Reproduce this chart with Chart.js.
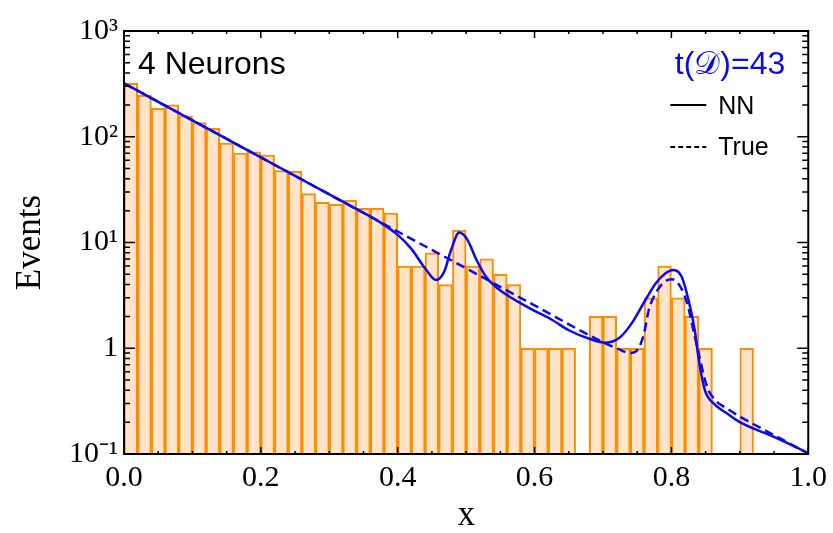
<!DOCTYPE html>
<html lang="en">
<head>
<meta charset="UTF-8">
<title>4 Neurons - Events vs x</title>
<script src="https://cdn.jsdelivr.net/npm/chart.js"></script>
<style>
  html, body { margin: 0; padding: 0; background: #fff; }
</style>
</head>
<body>
<canvas id="histo" width="833" height="533"></canvas>
<script>
// histogram: bin centres (width 0.02) and counts
const binCenters = [
  0.01, 0.03, 0.05, 0.07, 0.09, 0.11, 0.13, 0.15, 0.17, 0.19,
  0.21, 0.23, 0.25, 0.27, 0.29, 0.31, 0.33, 0.35, 0.37, 0.39,
  0.41, 0.43, 0.45, 0.47, 0.49, 0.51, 0.53, 0.55, 0.57, 0.59,
  0.61, 0.63, 0.65, 0.67, 0.69, 0.71, 0.73, 0.75, 0.77, 0.79,
  0.81, 0.83, 0.85, 0.87, 0.89, 0.91, 0.93, 0.95, 0.97, 0.99
];
const counts = [
  320, 246, 186, 200, 158, 136, 120, 87, 70, 72,
  67, 48, 47, 29, 24, 23, 25, 21, 21, 19,
  6, 6, 8, 4, 13, 6, 7, 5, 4, 1,
  1, 1, 1, 0, 2, 2, 1, 1, 3, 6,
  3, 2, 1, 0, 0, 1, 0, 0, 0, 0
];

// NN fit (solid)
const nnX = [0, 0.05, 0.1, 0.15, 0.2, 0.25, 0.3, 0.35, 0.373, 0.40, 0.42, 0.44, 0.456,
  0.468, 0.478, 0.49, 0.502, 0.514, 0.529, 0.543, 0.563, 0.58, 0.60, 0.626, 0.65,
  0.68, 0.704, 0.723, 0.742, 0.762, 0.777, 0.791, 0.803, 0.815, 0.825, 0.834,
  0.84, 0.849, 0.862, 0.88, 0.9, 0.95, 1.0];
const nnY = [320, 214, 143, 95.5, 63.8, 42.7, 28.5, 19.1, 15.7, 11.8, 8.7, 5.7, 4.42,
  5.3, 8.5, 12.4, 10.6, 7.1, 4.75, 3.82, 3.09, 2.66, 2.26, 1.85, 1.48,
  1.23, 1.13, 1.24, 1.72, 2.86, 4.1, 5.1, 5.5, 4.75, 2.86, 1.5,
  0.78, 0.40, 0.30, 0.245, 0.20, 0.145, 0.102];

// true distribution (dashed)
const trueX = [0, 0.1, 0.2, 0.3, 0.4, 0.5, 0.6, 0.7, 0.72, 0.74, 0.752, 0.76, 0.767,
  0.777, 0.789, 0.801, 0.813, 0.823, 0.832, 0.842, 0.852, 0.864, 0.881, 0.9, 0.95, 1.0];
const trueY = [320, 143, 63.8, 28.5, 12.7, 5.7, 2.54, 1.14, 1.0, 0.9, 1.0, 1.38, 2.3,
  3.31, 4.2, 4.49, 3.82, 2.66, 1.49, 0.775, 0.433, 0.324, 0.27, 0.226, 0.151, 0.101];

const xTicks = [0, 0.2, 0.4, 0.6, 0.8, 1.0];
const xTickLabels = ['0.0', '0.2', '0.4', '0.6', '0.8', '1.0'];
const yTicks = [0.1, 1, 10, 100, 1000];
const yTickLabels = ['10\u207B\u00B9', '1', '10\u00B9', '10\u00B2', '10\u00B3'];

const BLUE = 'rgb(10,10,240)';
const serif = '"Liberation Serif", "Times New Roman", serif';
const sans = '"Liberation Sans", Arial, sans-serif';

const histData = [];
for (let i = 0; i < binCenters.length; i++) {
  if (counts[i] > 0) histData.push({ x: binCenters[i], y: counts[i] });
}
const nnData = nnX.map((v, i) => ({ x: v, y: nnY[i] }));
const trueData = trueX.map((v, i) => ({ x: v, y: trueY[i] }));

// frame, inward tick marks and the text inside the plot
const frameTicks = {
  id: 'frameTicks',
  afterDatasetsDraw(chart) {
    const { ctx, chartArea: a, scales: { x, y } } = chart;
    ctx.save();
    ctx.strokeStyle = '#000';
    ctx.lineWidth = 1.5;
    ctx.beginPath();
    for (let i = 0; i <= 20; i++) {
      const px = x.getPixelForValue(i * 0.05);
      const len = i % 4 === 0 ? 7 : 3;
      ctx.moveTo(px, a.bottom); ctx.lineTo(px, a.bottom - len);
      ctx.moveTo(px, a.top); ctx.lineTo(px, a.top + len);
    }
    for (let e = -1; e <= 3; e++) {
      for (let m = 1; m <= 9; m++) {
        if (e === 3 && m > 1) break;
        const py = y.getPixelForValue(m * Math.pow(10, e));
        const len = m === 1 ? 11 : 6;
        ctx.moveTo(a.left, py); ctx.lineTo(a.left + len, py);
        ctx.moveTo(a.right, py); ctx.lineTo(a.right - len, py);
      }
    }
    ctx.stroke();
    ctx.lineWidth = 2;
    ctx.strokeRect(a.left, a.top, a.right - a.left, a.bottom - a.top);

    ctx.textBaseline = 'alphabetic';
    ctx.fillStyle = '#000';
    ctx.font = '32px ' + sans;
    ctx.textAlign = 'left';
    ctx.fillText('4 Neurons', a.left + 14, a.top + 43);

    ctx.fillStyle = BLUE;
    ctx.textAlign = 'right';
    ctx.fillText('t(\uD835\uDC9F)=43', a.right - 23, a.top + 43);

    // legend
    ctx.strokeStyle = '#000';
    ctx.lineWidth = 2;
    ctx.beginPath();
    ctx.moveTo(a.right - 138, a.top + 74);
    ctx.lineTo(a.right - 102, a.top + 74);
    ctx.stroke();
    ctx.setLineDash([5, 3]);
    ctx.beginPath();
    ctx.moveTo(a.right - 138, a.top + 116);
    ctx.lineTo(a.right - 102, a.top + 116);
    ctx.stroke();
    ctx.setLineDash([]);
    ctx.fillStyle = '#000';
    ctx.textAlign = 'left';
    ctx.font = '25px ' + sans;
    ctx.fillText('NN', a.right - 90, a.top + 83);
    ctx.fillText('True', a.right - 90, a.top + 124);
    ctx.restore();
  }
};

new Chart(document.getElementById('histo'), {
  type: 'bar',
  data: {
    datasets: [
      {
        type: 'line',
        label: 'NN',
        data: nnData,
        borderColor: BLUE,
        borderWidth: 2.5,
        pointRadius: 0,
        cubicInterpolationMode: 'monotone',
        fill: false,
        order: 1
      },
      {
        type: 'line',
        label: 'True',
        data: trueData,
        borderColor: BLUE,
        borderWidth: 2.5,
        borderDash: [9, 5],
        pointRadius: 0,
        cubicInterpolationMode: 'monotone',
        fill: false,
        order: 1
      },
      {
        label: 'Events',
        data: histData,
        backgroundColor: 'rgb(255,228,202)',
        borderColor: 'rgb(255,140,0)',
        borderWidth: 2,
        barPercentage: 1,
        categoryPercentage: 1,
        order: 2
      }
    ]
  },
  options: {
    responsive: false,
    animation: false,
    devicePixelRatio: 1,
    layout: { padding: { top: 31, right: 23, bottom: 0, left: 0 } },
    plugins: {
      legend: { display: false },
      tooltip: { enabled: false }
    },
    scales: {
      x: {
        type: 'linear',
        min: 0,
        max: 1,
        offset: false,
        grid: { display: false, drawTicks: false, offset: false },
        border: { display: false },
        afterBuildTicks: s => { s.ticks = xTicks.map(v => ({ value: v })); },
        afterFit: s => { s.height = 79; },
        ticks: {
          color: '#000',
          padding: 6,
          font: { family: serif, size: 30 },
          callback: (v) => xTickLabels[xTicks.indexOf(v)]
        },
        title: {
          display: true,
          text: 'x',
          color: '#000',
          font: { family: serif, size: 35, lineHeight: 1 },
          padding: { top: 0, bottom: 0 }
        }
      },
      y: {
        type: 'logarithmic',
        min: 0.1,
        max: 1000,
        grid: { display: false, drawTicks: false },
        border: { display: false },
        afterBuildTicks: s => { s.ticks = yTicks.map(v => ({ value: v })); },
        afterFit: s => { s.width = 124; },
        ticks: {
          color: '#000',
          padding: 6,
          autoSkip: false,
          font: { family: serif, size: 30 },
          callback: (v) => yTickLabels[yTicks.indexOf(v)]
        },
        title: {
          display: true,
          text: 'Events',
          color: '#000',
          font: { family: serif, size: 35, lineHeight: 1 },
          padding: { top: 13, bottom: 0 }
        }
      }
    }
  },
  plugins: [frameTicks]
});
</script>
</body>
</html>
